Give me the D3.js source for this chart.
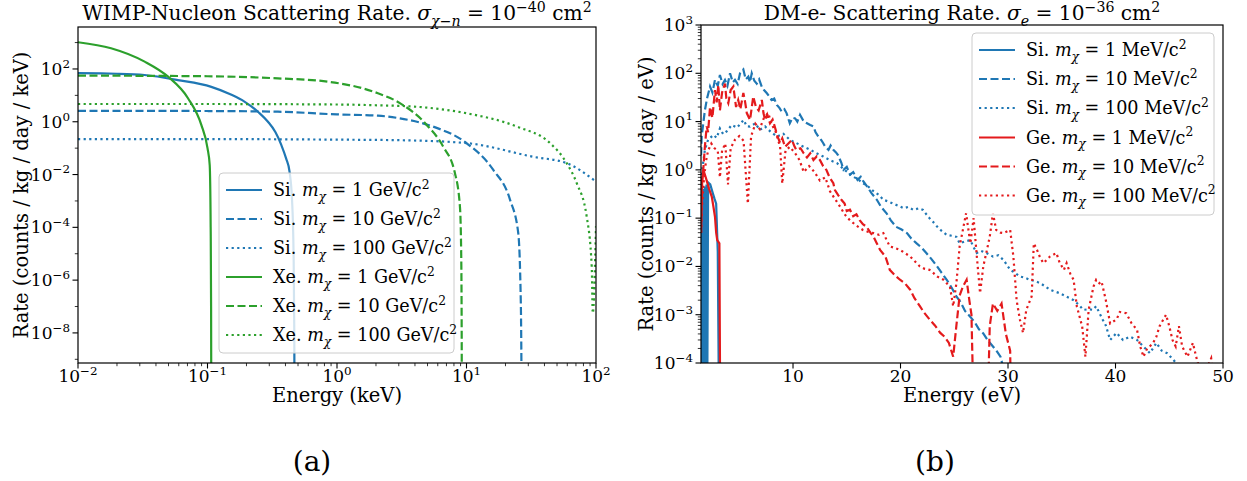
<!DOCTYPE html>
<html>
<head>
<meta charset="utf-8">
<script src="https://cdn.jsdelivr.net/npm/d3@7"></script>
<style>
  body { margin: 0; background: #fff; }
  text { font-family: "DejaVu Serif", serif; fill: #000; }
</style>
</head>
<body>
<svg id="fig" width="1247" height="481"></svg>
<script>
// ---- panel (a): WIMP-nucleon rates, [energy keV, rate] ----
var siGeV1 = [[0.01, 69], [0.02, 66], [0.0327, 59], [0.059, 38], [0.107, 21], [0.15, 11], [0.194, 5.7],
    [0.25, 2.2], [0.293, 1.0], [0.335, 0.4], [0.372, 0.13], [0.405, 0.04], [0.43, 0.013], [0.45, 1e-3],
    [0.462, 1e-5], [0.468, 1e-8], [0.47, 1e-11]];
var siGeV10 = [[0.01, 2.6], [0.1, 2.55], [0.35, 2.4], [1, 1.9], [2.07, 1.7], [3.06, 1.35], [5.5, 0.66],
    [10, 0.155], [16.1, 0.015], [21.7, 0.0011], [25.1, 6e-5], [26.3, 1e-7], [26.7, 1e-11]];
var siGeV100 = [[0.01, 0.22], [0.1, 0.22], [1, 0.21], [3.06, 0.2], [10, 0.155], [32.8, 0.047],
    [59.4, 0.027], [100, 0.0054]];
var xeGeV1 = [[0.01, 1030], [0.018, 610], [0.0327, 190], [0.0496, 51], [0.0707, 7.8], [0.0896, 0.76],
    [0.1, 0.1], [0.104, 0.023], [0.1058, 1e-4], [0.1066, 1e-7], [0.107, 1e-11]];
var xeGeV10 = [[0.01, 56], [0.1, 53], [0.35, 44], [0.85, 33], [2.07, 12], [3.06, 5.1], [4.93, 0.76],
    [6.6, 0.115], [8.15, 0.011], [8.9, 6e-4], [9.1, 1e-5], [9.18, 1e-8], [9.2, 1e-11]];
var xeGeV100 = [[0.01, 4.7], [0.1, 4.7], [1, 4.5], [2.07, 4.2], [4.1, 3.7], [10, 2.1], [24.4, 0.66],
    [44.2, 0.155], [59.4, 0.027], [71, 0.0047], [84.7, 2.6e-4], [92.7, 3.2e-6], [94.4, 5.6e-8], [100, 1.1e-4]];

var labelsA = ["Si. ", "Si. ", "Si. ", "Xe. ", "Xe. ", "Xe. "];
var massesA = ["1", "10", "100", "1", "10", "100"];
var xTicksA = [-2, -1, 0, 1, 2];
var yTicksA = [-8, -6, -4, -2, 0, 2];

// ---- panel (b): DM-electron rates, [energy eV, rate] ----
var siMeV1 = [[1.45, 0.3], [1.5, 0.45], [1.55, 1e-6], [1.62, 0.4], [1.7, 1e-6], [1.8, 0.45], [1.87, 1e-6],
    [1.95, 0.5], [2.0, 1e-6], [2.1, 0.55], [2.3, 0.5], [2.5, 0.35], [2.7, 0.25], [2.85, 0.2], [3.0, 0.02],
    [3.15, 1e-6]];
var siMeV10 = [[1.45, 2], [1.5, 4.9], [1.8, 17], [2.0, 30], [2.28, 53], [2.5, 40], [2.74, 73], [3.0, 55],
    [3.2, 92], [3.45, 60], [3.67, 73], [3.9, 55], [4.14, 100], [4.4, 65], [4.6, 73], [4.85, 60], [5.07, 100],
    [5.38, 120], [5.6, 75], [5.84, 85], [6.0, 65], [6.16, 100], [6.4, 70], [6.62, 61], [6.85, 75], [7.09, 53],
    [7.3, 45], [7.55, 39], [7.8, 33], [8.0, 28], [8.25, 30], [8.5, 22], [8.75, 19], [8.95, 16], [9.2, 18],
    [9.4, 15], [9.7, 9.2], [9.95, 12], [10.2, 11.6], [10.4, 10], [10.65, 13.8], [11.0, 10], [11.3, 9.2],
    [11.6, 8.5], [11.9, 7.9], [12.1, 6], [12.35, 4.9], [12.6, 4.2], [12.8, 3.6], [13.0, 3.0], [13.3, 2.6],
    [13.5, 3.2], [13.75, 2.6], [14.0, 2.3], [14.2, 2.0], [14.5, 1.4], [14.7, 1.0], [15.0, 1.15], [15.3, 0.8],
    [15.6, 0.9], [16.0, 0.62], [16.3, 0.72], [16.5, 0.6], [16.9, 0.45], [17.3, 0.33], [17.8, 0.24],
    [18.2, 0.17], [18.7, 0.126], [19.1, 0.09], [19.6, 0.066], [20.1, 0.058], [20.6, 0.049], [21.0, 0.038],
    [21.5, 0.03], [22.0, 0.024], [22.4, 0.019], [22.9, 0.014], [23.4, 0.01], [23.8, 0.0075], [24.3, 0.0053],
    [24.8, 0.0035], [25.2, 0.0024], [25.6, 0.0018], [26.0, 0.0012], [26.5, 9e-4], [26.9, 7e-4], [27.3, 5e-4],
    [27.7, 4.1e-4], [28.1, 3e-4], [28.6, 2.2e-4], [29.0, 1.7e-4], [29.3, 1.35e-4], [29.8, 5e-5]];
var siMeV100 = [[1.45, 0.6], [1.55, 1.0], [1.8, 2.6], [2.1, 4.2], [2.6, 5.3], [2.9, 4.6], [3.2, 7.2],
    [3.5, 5.5], [3.8, 6.2], [4.3, 8.5], [4.8, 7.5], [5.4, 10.8], [5.7, 8], [6.0, 7.9], [6.5, 9.2], [6.9, 6.7],
    [7.4, 7.9], [7.9, 6.2], [8.5, 4.9], [9.1, 5.6], [9.7, 4.2], [10.3, 3.6], [11.0, 3.0], [11.6, 2.6],
    [12.2, 2.2], [12.8, 1.9], [13.4, 1.6], [14.1, 1.37], [14.8, 1.0], [15.6, 0.72], [16.0, 0.65],
    [16.5, 0.53], [17.0, 0.45], [17.5, 0.36], [18.0, 0.3], [18.4, 0.24], [18.9, 0.22], [19.3, 0.2],
    [19.8, 0.18], [20.3, 0.16], [20.7, 0.17], [21.2, 0.148], [21.7, 0.16], [22.1, 0.148], [22.4, 0.12],
    [22.7, 0.1], [23.0, 0.085], [23.4, 0.067], [23.8, 0.055], [24.3, 0.045], [24.8, 0.043], [25.2, 0.041],
    [25.5, 0.03], [26.0, 0.033], [26.5, 0.035], [26.8, 0.025], [27.1, 0.019], [27.5, 0.021], [28.0, 0.019],
    [28.6, 0.016], [29.1, 0.017], [29.6, 0.0135], [30.2, 0.0085], [30.6, 0.0075], [31.1, 0.0062],
    [31.6, 0.0058], [32.0, 0.0053], [32.5, 0.005], [33.0, 0.0045], [33.5, 0.0038], [33.9, 0.0033],
    [34.4, 0.003], [34.8, 0.0028], [35.4, 0.0024], [36.1, 0.002], [36.6, 0.0016], [37.0, 0.00126],
    [37.5, 0.0013], [37.9, 0.00126], [38.2, 0.0015], [38.8, 8e-4], [39.1, 6e-4], [39.5, 3e-4], [40.1, 4.2e-4],
    [40.7, 3e-4], [41.35, 3.5e-4], [42.0, 3e-4], [42.6, 2.2e-4], [43.2, 1.6e-4], [43.8, 2.6e-4],
    [44.3, 1.8e-4], [44.8, 1.6e-4], [45.4, 1.15e-4], [46.0, 8e-5]];
var geMeV1 = [[1.45, 0.05], [1.55, 0.6], [1.65, 1.0], [1.8, 0.8], [1.97, 0.6], [2.2, 0.4], [2.44, 0.28],
    [2.6, 0.17], [2.74, 0.107], [2.85, 0.05], [2.95, 0.035], [3.15, 0.03], [3.25, 1e-6]];
var geMeV10 = [[1.5, 0.5], [1.65, 1.0], [1.8, 3], [1.97, 8], [2.1, 6], [2.28, 20], [2.5, 12], [2.74, 45],
    [2.9, 25], [3.05, 57], [3.2, 17], [3.4, 40], [3.67, 61], [3.8, 30], [3.98, 24], [4.2, 45], [4.45, 53],
    [4.7, 20], [4.9, 28], [5.1, 18], [5.38, 39], [5.55, 25], [5.7, 15], [6.0, 10.8], [6.3, 33], [6.55, 20],
    [6.8, 17], [7.1, 28], [7.25, 15], [7.4, 10.8], [7.6, 14], [7.86, 9.2], [8.1, 11], [8.3, 7.9], [8.55, 5],
    [8.8, 3.6], [9.0, 4.5], [9.26, 3.0], [9.5, 3.4], [9.9, 4.2], [10.1, 3.2], [10.3, 2.6], [10.7, 2.8],
    [11.0, 2.2], [11.3, 1.8], [11.6, 2.2], [11.9, 1.6], [12.2, 1.9], [12.5, 1.6], [12.8, 1.2], [13.1, 1.0],
    [13.4, 0.7], [13.75, 0.53], [13.9, 0.38], [14.2, 0.3], [14.5, 0.24], [14.8, 0.2], [15.0, 0.14],
    [15.3, 0.15], [15.6, 0.11], [15.9, 0.12], [16.2, 0.091], [16.5, 0.075], [16.85, 0.066], [17.2, 0.05],
    [17.5, 0.041], [17.8, 0.03], [18.1, 0.022], [18.6, 0.016], [19.0, 0.0085], [19.5, 0.0065],
    [19.95, 0.0053], [20.4, 0.0045], [20.9, 0.0033], [21.3, 0.0022], [21.8, 0.0015], [22.2, 0.0011],
    [22.7, 8e-4], [23.2, 6e-4], [23.7, 4.2e-4], [24.1, 3.5e-4], [24.5, 2.6e-4], [24.9, 1.35e-4], [25.2, 6e-4],
    [25.5, 0.0025], [25.8, 0.0038], [26.15, 0.0053], [26.4, 0.002], [26.6, 0.001], [26.9, 1e-6], [28.0, 1e-6],
    [28.3, 5.8e-4], [28.6, 0.0017], [29.0, 0.0012], [29.4, 0.0017], [29.8, 4e-4], [30.2, 1.8e-4], [30.35, 1e-6]];
var geMeV100 = [[1.45, 0.05], [1.5, 0.13], [1.6, 0.3], [1.7, 0.6], [1.9, 1.5], [2.1, 2.5], [2.4, 3.5],
    [2.7, 2.8], [3.0, 2.5], [3.2, 0.7], [3.4, 2.5], [3.7, 3.5], [3.95, 0.5], [4.2, 2.8], [4.6, 4.2], [5.0, 5.0],
    [5.4, 4.0], [5.8, 0.2], [6.1, 5.0], [6.5, 9.0], [6.9, 7.0], [7.3, 12], [7.7, 15], [8.0, 9], [8.4, 6],
    [8.8, 3], [9.0, 0.52], [9.3, 2.5], [9.7, 3.0], [10.2, 2.2], [10.6, 1.6], [11.0, 0.9], [11.5, 1.2],
    [12.0, 0.9], [12.5, 0.6], [13.0, 0.7], [13.44, 0.36], [13.9, 0.25], [14.4, 0.17], [14.8, 0.12],
    [15.3, 0.09], [15.9, 0.07], [16.5, 0.057], [17.0, 0.052], [17.5, 0.049], [18.0, 0.045], [18.4, 0.049],
    [19.0, 0.026], [19.5, 0.024], [19.95, 0.022], [20.4, 0.019], [20.9, 0.016], [21.3, 0.013], [21.8, 0.01],
    [22.2, 0.009], [22.7, 0.0085], [23.0, 0.0075], [23.4, 0.0062], [24.0, 0.0053], [24.6, 0.0038],
    [24.9, 0.0015], [25.2, 0.0045], [25.5, 0.026], [25.8, 0.057], [26.1, 0.126], [26.5, 0.03], [26.8, 0.1],
    [27.1, 0.016], [27.4, 0.0028], [27.7, 0.01], [28.0, 0.02], [28.3, 0.041], [28.6, 0.126], [28.9, 0.057],
    [29.3, 0.05], [29.6, 0.049], [30.2, 0.057], [30.5, 0.016], [30.8, 0.002], [31.1, 8e-4], [31.4, 4.2e-4],
    [31.7, 0.00126], [32.2, 0.0024], [32.4, 0.03], [32.7, 0.022], [33.0, 0.015], [33.3, 0.0117], [33.9, 0.016],
    [34.5, 0.019], [34.8, 0.012], [35.2, 0.0085], [35.45, 0.0117], [35.8, 0.007], [36.1, 0.0053],
    [36.4, 0.0015], [36.9, 5.7e-4], [37.2, 1.35e-4], [37.5, 0.00126], [37.95, 0.0038], [38.2, 0.0053],
    [38.5, 0.0045], [38.7, 0.0049], [39.1, 0.002], [39.5, 6.6e-4], [40.1, 8e-4], [40.4, 0.00114],
    [41.0, 0.00107], [41.5, 6.6e-4], [42.0, 4.9e-4], [42.3, 2.2e-4], [42.6, 1.35e-4], [42.9, 1.9e-4],
    [43.5, 2.6e-4], [43.8, 3.5e-4], [44.1, 5.8e-4], [44.7, 0.001], [45.0, 5.8e-4], [45.3, 3e-4],
    [45.6, 2.2e-4], [45.9, 5.8e-4], [46.2, 2.2e-4], [46.7, 1.35e-4], [47.2, 2.6e-4], [47.5, 1.35e-4],
    [47.8, 8e-5], [48.5, 8e-5], [48.9, 1.25e-4], [49.1, 5e-5]];

var labelsB = ["Si. ", "Si. ", "Si. ", "Ge. ", "Ge. ", "Ge. "];
var massesB = ["1", "10", "100", "1", "10", "100"];
var xTicksB = [10, 20, 30, 40, 50];
var yTicksB = [-4, -3, -2, -1, 0, 1, 2, 3];

var blue = "#1f77b4", green = "#2ca02c", red = "#e41a1c";
var dash = { solid: null, dashed: "8,3.5", dotted: "2.2,3.4" };
var lineW = 2.2;

var svg = d3.select("#fig");
svg.append("rect").attr("width", 1247).attr("height", 481).attr("fill", "#fff");

// writes text with sub/superscripts; parts = [{t, i, s}] s is "sup" or "sub"
function mathText(sel, parts, fs) {
    var cur = 0;
    parts.forEach(function (p) {
        var shift = p.s === "sup" ? -0.42 * fs : (p.s === "sub" ? 0.28 * fs : 0);
        var ts = sel.append("tspan").text(p.t).attr("dy", shift - cur);
        if (p.s) ts.attr("font-size", 0.7 * fs);
        if (p.i) ts.attr("font-style", "italic");
        cur = shift;
    });
}

function powParts(e) {
    return [{ t: "10" }, { t: (e < 0 ? "\u2212" : "") + Math.abs(e), s: "sup" }];
}

function drawLines(g, scX, scY, series, curve) {
    var line = d3.line()
        .x(function (d) { return scX(d[0]); })
        .y(function (d) { return scY(d[1]); })
        .curve(curve);
    series.forEach(function (s) {
        g.append("path")
            .datum(s.data)
            .attr("d", line)
            .attr("fill", "none")
            .attr("stroke", s.color)
            .attr("stroke-width", lineW)
            .attr("stroke-dasharray", dash[s.style]);
    });
}

function drawLegend(x0, y0, w, h, rowY, series, labels, masses, unit) {
    var lg = svg.append("g");
    lg.append("rect").attr("x", x0).attr("y", y0).attr("width", w).attr("height", h)
        .attr("rx", 4).attr("fill", "#fff").attr("fill-opacity", 0.8)
        .attr("stroke", "#ccc").attr("stroke-width", 1);
    series.forEach(function (s, i) {
        var cy = y0 + rowY[i];
        lg.append("line").attr("x1", x0 + 7).attr("x2", x0 + 43).attr("y1", cy).attr("y2", cy)
            .attr("stroke", s.color).attr("stroke-width", lineW)
            .attr("stroke-dasharray", dash[s.style]);
        var t = lg.append("text").attr("x", x0 + 54).attr("y", cy + 6).attr("font-size", 17.6);
        mathText(t, [{ t: labels[i] }, { t: "m", i: true }, { t: "\u03c7", i: true, s: "sub" },
            { t: " = " + masses[i] + " " + unit + "/c" }, { t: "2", s: "sup" }], 17.6);
    });
}

function frame(x0, y0, x1, y1) {
    svg.append("rect").attr("x", x0).attr("y", y0).attr("width", x1 - x0).attr("height", y1 - y0)
        .attr("fill", "none").attr("stroke", "#000").attr("stroke-width", 1.2);
}

function clip(id, x0, y0, x1, y1) {
    svg.append("clipPath").attr("id", id).append("rect")
        .attr("x", x0).attr("y", y0).attr("width", x1 - x0).attr("height", y1 - y0);
}

// ================= panel (a) =================
var aL = 78, aR = 596, aT = 27, aB = 363;
var xA = d3.scaleLog().domain([0.01, 100]).range([aL, aR]);
var yA = d3.scaleLog().domain([Math.pow(10, -9.14), Math.pow(10, 3.59)]).range([aB, aT]);

clip("clipA", aL, aT, aR, aB);
var seriesA = [
    { data: siGeV1, color: blue, style: "solid" },
    { data: siGeV10, color: blue, style: "dashed" },
    { data: siGeV100, color: blue, style: "dotted" },
    { data: xeGeV1, color: green, style: "solid" },
    { data: xeGeV10, color: green, style: "dashed" },
    { data: xeGeV100, color: green, style: "dotted" }
];
drawLines(svg.append("g").attr("clip-path", "url(#clipA)"), xA, yA, seriesA, d3.curveMonotoneX);

var tkA = svg.append("g").attr("stroke", "#000").attr("stroke-width", 1.1);
xTicksA.forEach(function (e) {
    var x = xA(Math.pow(10, e));
    tkA.append("line").attr("x1", x).attr("x2", x).attr("y1", aB).attr("y2", aB + 5.5);
    var t = svg.append("text").attr("x", x).attr("y", aB + 19).attr("text-anchor", "middle").attr("font-size", 17);
    mathText(t, powParts(e), 17);
    if (e < 2) {
        for (var k = 2; k <= 9; k++) {
            var xm = xA(k * Math.pow(10, e));
            tkA.append("line").attr("x1", xm).attr("x2", xm).attr("y1", aB).attr("y2", aB + 3.2)
                .attr("stroke-width", 0.8);
        }
    }
});
for (var e = -9; e <= 3; e++) {
    var yy = yA(Math.pow(10, e));
    if (yTicksA.indexOf(e) >= 0) {
        tkA.append("line").attr("x1", aL - 5.5).attr("x2", aL).attr("y1", yy).attr("y2", yy);
        var t = svg.append("text").attr("x", aL - 8).attr("y", yy + 6).attr("text-anchor", "end").attr("font-size", 17);
        mathText(t, powParts(e), 17);
    } else {
        tkA.append("line").attr("x1", aL - 3.2).attr("x2", aL).attr("y1", yy).attr("y2", yy).attr("stroke-width", 0.8);
    }
}
frame(aL, aT, aR, aB);

svg.append("text").attr("x", (aL + aR) / 2).attr("y", 402).attr("text-anchor", "middle")
    .attr("font-size", 19.5).text("Energy (keV)");
svg.append("text").attr("transform", "translate(28," + (aT + aB) / 2 + ") rotate(-90)")
    .attr("text-anchor", "middle").attr("font-size", 19.5).text("Rate (counts / kg / day / keV)");
var titleA = svg.append("text").attr("x", (aL + aR) / 2).attr("y", 20).attr("text-anchor", "middle").attr("font-size", 20.2);
mathText(titleA, [{ t: "WIMP-Nucleon Scattering Rate. " }, { t: "\u03c3", i: true },
    { t: "\u03c7", i: true, s: "sub" }, { t: "\u2212", s: "sub" }, { t: "n", i: true, s: "sub" },
    { t: " = 10" }, { t: "\u221240", s: "sup" }, { t: " cm" }, { t: "2", s: "sup" }], 20.2);

drawLegend(219, 173, 235, 180, [17, 46, 75, 104, 133, 162], seriesA, labelsA, massesA, "GeV");

// ================= panel (b) =================
var bL = 701, bR = 1223, bT = 25, bB = 363;
var xB = d3.scaleLinear().domain([1.44, 50]).range([bL, bR]);
var yB = d3.scaleLog().domain([1e-4, 1e3]).range([bB, bT]);

clip("clipB", bL, bT, bR, bB);
var seriesB = [
    { data: siMeV1, color: blue, style: "solid" },
    { data: siMeV10, color: blue, style: "dashed" },
    { data: siMeV100, color: blue, style: "dotted" },
    { data: geMeV1, color: red, style: "solid" },
    { data: geMeV10, color: red, style: "dashed" },
    { data: geMeV100, color: red, style: "dotted" }
];
drawLines(svg.append("g").attr("clip-path", "url(#clipB)"), xB, yB, seriesB, d3.curveLinear);

var tkB = svg.append("g").attr("stroke", "#000").attr("stroke-width", 1.1);
xTicksB.forEach(function (v) {
    var x = xB(v);
    tkB.append("line").attr("x1", x).attr("x2", x).attr("y1", bB).attr("y2", bB + 5.5);
    svg.append("text").attr("x", x).attr("y", bB + 19).attr("text-anchor", "middle").attr("font-size", 17).text(v);
});
yTicksB.forEach(function (e) {
    var yy = yB(Math.pow(10, e));
    tkB.append("line").attr("x1", bL - 5.5).attr("x2", bL).attr("y1", yy).attr("y2", yy);
    var t = svg.append("text").attr("x", bL - 8).attr("y", yy + 6).attr("text-anchor", "end").attr("font-size", 17);
    mathText(t, powParts(e), 17);
    if (e < 3) {
        for (var k = 2; k <= 9; k++) {
            var ym = yB(k * Math.pow(10, e));
            tkB.append("line").attr("x1", bL - 3.2).attr("x2", bL).attr("y1", ym).attr("y2", ym).attr("stroke-width", 0.8);
        }
    }
});
frame(bL, bT, bR, bB);

svg.append("text").attr("x", (bL + bR) / 2).attr("y", 402).attr("text-anchor", "middle")
    .attr("font-size", 19.5).text("Energy (eV)");
svg.append("text").attr("transform", "translate(653," + (bT + bB) / 2 + ") rotate(-90)")
    .attr("text-anchor", "middle").attr("font-size", 19.5).text("Rate (counts / kg / day / eV)");
var titleB = svg.append("text").attr("x", (bL + bR) / 2).attr("y", 20).attr("text-anchor", "middle").attr("font-size", 20.2);
mathText(titleB, [{ t: "DM-e- Scattering Rate. " }, { t: "\u03c3", i: true }, { t: "e", i: true, s: "sub" },
    { t: " = 10" }, { t: "\u221236", s: "sup" }, { t: " cm" }, { t: "2", s: "sup" }], 20.2);

drawLegend(972, 33, 242, 182, [17, 46, 75, 104.5, 133.5, 162.5], seriesB, labelsB, massesB, "MeV");

// sub-figure captions
svg.append("text").attr("x", 312).attr("y", 471).attr("text-anchor", "middle")
    .attr("font-family", "Liberation Serif").attr("font-size", 28).text("(a)");
svg.append("text").attr("x", 935).attr("y", 471).attr("text-anchor", "middle")
    .attr("font-family", "Liberation Serif").attr("font-size", 28).text("(b)");
</script>
</body>
</html>
